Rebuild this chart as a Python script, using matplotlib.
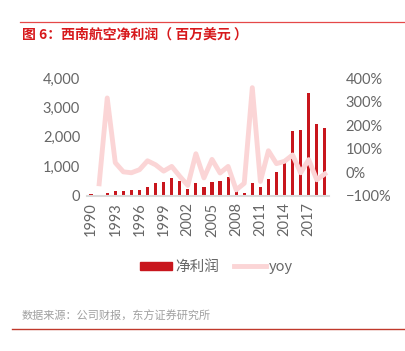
import numpy as np
import matplotlib
matplotlib.use("Agg")
import matplotlib.pyplot as plt
from matplotlib.lines import Line2D
from matplotlib.patches import Patch

plt.rcParams['font.family'] = ['Noto Sans CJK SC', 'DejaVu Sans']

# data
years = list(range(1990, 2020))
net_profit = [47, 27, 97, 150, 170, 178, 200, 305, 420, 465,
              590, 500, 230, 420, 295, 470, 480, 625, 150, 80,
              440, 300, 570, 810, 1120, 2200, 2220, 3490, 2450, 2290]
yoy = [np.nan, -50, 316, 40, 1, -3, 10, 48, 31, 4,
       24, -18, -57, 78, -25, 54, -4, 24, -76, -48,
       360, -40, 91, 36, 46, 73, -3, 53, -33, -8]
xtick_years = [1990, 1993, 1996, 1999, 2002, 2005, 2008, 2011, 2014, 2017]
left_ticks = [0, 1000, 2000, 3000, 4000]
right_ticks = [-100, 0, 100, 200, 300, 400]

bar_color = '#C8161D'
line_color = '#FBD5D6'
text_gray = '#666666'
num_font = ['Lato', 'DejaVu Sans']

fig = plt.figure(figsize=(4.05, 3.51), dpi=100)
ax = fig.add_axes([0.215, 0.443, 0.597, 0.334])

x = np.arange(len(years))
ax.bar(x, net_profit, width=0.4, color=bar_color, zorder=2)
ax.set_xlim(-0.5, len(years) - 0.5)
ax.set_ylim(0, 4000)
ax.set_yticks(left_ticks)
ax.set_yticklabels([f"{v:,}" for v in left_ticks], family=num_font,
                   fontsize=10.5, color=text_gray)
ax.set_xticks([years.index(y) for y in xtick_years])
ax.set_xticklabels([str(y) for y in xtick_years], rotation=90, family=num_font,
                   fontsize=10.5, color=text_gray)
ax.tick_params(length=0, pad=5)
for s in ['top', 'left', 'right']:
    ax.spines[s].set_visible(False)
ax.spines['bottom'].set_color('#D9D9D9')
ax.spines['bottom'].set_linewidth(1.5)

ax2 = ax.twinx()
ax2.plot(x, np.array(yoy) / 100, color=line_color, lw=3.5, zorder=3)
ax2.set_ylim(-1, 4)
ax2.set_yticks([v / 100 for v in right_ticks])
ax2.set_yticklabels([f"{v}%".replace('-', '\u2212') for v in right_ticks],
                    family=num_font, fontsize=10.5, color=text_gray)
ax2.tick_params(length=0, pad=12)
for s in ['top', 'left', 'right', 'bottom']:
    ax2.spines[s].set_visible(False)

handles = [Patch(color=bar_color, label='净利润'),
           Line2D([], [], color=line_color, lw=3.5, label='yoy')]
leg = fig.legend(handles=handles, loc='center', bbox_to_anchor=(0.535, 0.239),
                 ncol=2, frameon=False, handlelength=2.2, handleheight=0.5,
                 handletextpad=0.2, columnspacing=1.0, fontsize=10.5)
for t in leg.get_texts():
    t.set_color(text_gray)

# title, rules and source note
fig.add_artist(Line2D([20 / 405, 1], [1 - 22 / 351] * 2, color='#E54848', lw=0.9))
fig.text(22 / 405, 1 - 35 / 351, '图 6：西南航空净利润（ 百万美元 ）', color='#D7191C',
         fontsize=10, fontweight='bold', va='center', ha='left')
fig.text(22 / 405, 1 - 316 / 351, '数据来源：公司财报，东方证券研究所', color='#A0A0A0',
         fontsize=8, va='center', ha='left')
fig.add_artist(Line2D([12 / 405, 1], [1 - 329 / 351] * 2, color='#C0392B', lw=1.0))

fig.savefig('out.png', dpi=100)
